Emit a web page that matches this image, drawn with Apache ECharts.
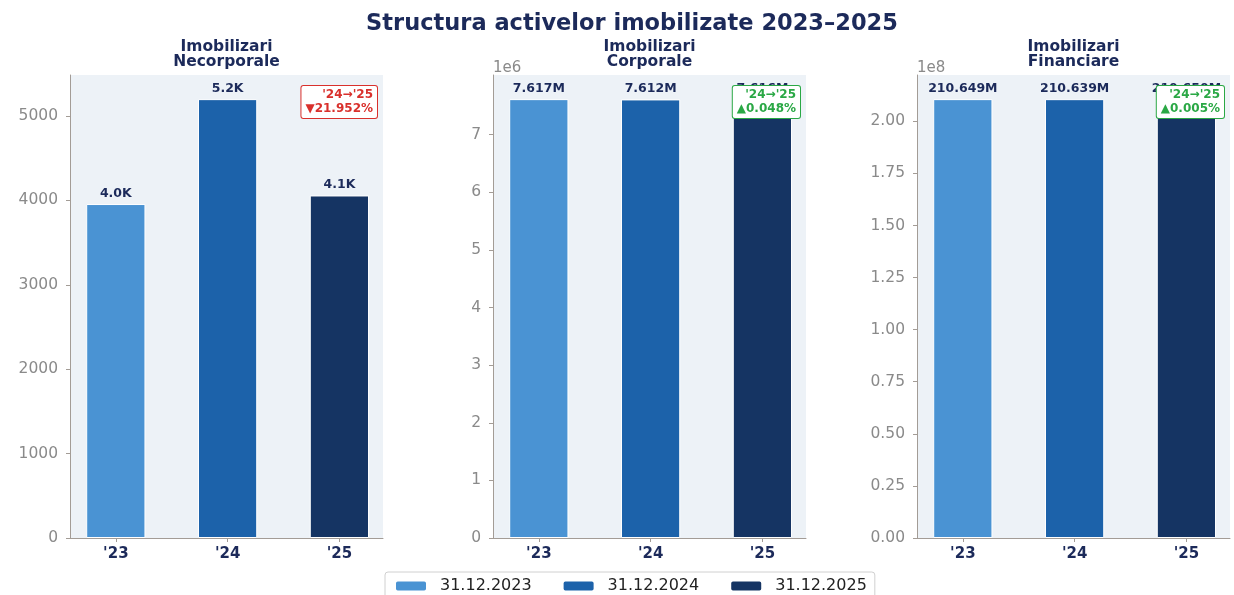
<!DOCTYPE html>
<html>
<head>
<meta charset="utf-8">
<script src="https://cdn.jsdelivr.net/npm/echarts@6/dist/echarts.min.js"></script>
<style>
  html, body { margin: 0; padding: 0; background: #fff; }
  #chart { width: 1234px; height: 595px; }
</style>
</head>
<body>
<div id="chart"></div>
<script>
// Year labels on the x axes and the balance-sheet dates shown in the legend
const categories = ["'23", "'24", "'25"];
const seriesNames = ['31.12.2023', '31.12.2024', '31.12.2025'];
const panelTitles = ['Imobilizari\nNecorporale', 'Imobilizari\nCorporale', 'Imobilizari\nFinanciare'];

// Values per asset group (lei)
const necorporale = [3957, 5200, 4058.5];
const corporale = [7617200, 7612300, 7615954];
const financiare = [210649000, 210639000, 210650000];

// Y-axis tick values and the scale text drawn above each axis
const ticksNecorporale = [0, 1000, 2000, 3000, 4000, 5000];
const ticksCorporale = [0, 1e6, 2e6, 3e6, 4e6, 5e6, 6e6, 7e6];
const ticksFinanciare = [0, 0.25e8, 0.5e8, 0.75e8, 1e8, 1.25e8, 1.5e8, 1.75e8, 2e8];
const axisScaleText = ['', '1e6', '1e8'];

const panels = [
  { values: necorporale, ticks: ticksNecorporale, fmt: v => String(v) },
  { values: corporale, ticks: ticksCorporale, fmt: v => String(Math.round(v / 1e6)) },
  { values: financiare, ticks: ticksFinanciare, fmt: v => (v / 1e8).toFixed(2) }
];

const colors = ['#4a93d3', '#1c62aa', '#153463'];
const NAVY = '#1c2a5a';
const FONT = 'DejaVu Sans';
const GRAY = '#8a8a8a';
const AXIS = '#a39c96';

// Plot area geometry
const gridLefts = [70, 493, 917];
const gridWidth = 313;
const gridTop = 75;
const gridBottom = 57;
const xMin = -0.41, xMax = 2.39;
const barWidth = 0.53 * gridWidth / (xMax - xMin);

function shortValue(v) {
  if (v >= 1e6) return (v / 1e6).toFixed(3) + 'M';
  return (v / 1e3).toFixed(1) + 'K';
}

const grid = [], xAxis = [], yAxis = [], series = [], graphic = [];
const title = [{
  text: 'Structura activelor imobilizate 2023\u20132025',
  left: 632, textAlign: 'center', top: 13, padding: 0,
  textStyle: { fontFamily: FONT, fontWeight: 'bold', fontSize: 22.5, color: NAVY }
}];

panels.forEach((p, i) => {
  const left = gridLefts[i];
  grid.push({
    left: left, width: gridWidth, top: gridTop, bottom: gridBottom,
    show: true, backgroundColor: '#edf2f7', borderWidth: 0
  });
  xAxis.push({
    type: 'value', gridIndex: i, min: xMin, max: xMax,
    axisLine: { show: true, onZero: false, lineStyle: { color: AXIS, width: 1 } },
    axisTick: { show: true, length: 4, customValues: [0, 1, 2], lineStyle: { color: AXIS } },
    axisLabel: {
      customValues: [0, 1, 2],
      formatter: v => categories[Math.round(v)],
      fontFamily: FONT, fontWeight: 'bold', fontSize: 15, color: NAVY, margin: 9
    },
    splitLine: { show: false }
  });
  yAxis.push({
    type: 'value', gridIndex: i, min: 0,
    max: Math.max(...p.values) * 1.055,
    name: axisScaleText[i], nameLocation: 'end', nameGap: -1,
    nameTextStyle: { fontFamily: FONT, fontSize: 15, color: GRAY, align: 'left', verticalAlign: 'bottom' },
    axisLine: { show: true, onZero: false, lineStyle: { color: AXIS, width: 1 } },
    axisTick: { show: true, length: 4, customValues: p.ticks, lineStyle: { color: AXIS } },
    axisLabel: {
      customValues: p.ticks, formatter: p.fmt,
      fontFamily: FONT, fontSize: 15.5, color: GRAY, margin: 12
    },
    splitLine: { show: false }
  });
  title.push({
    text: panelTitles[i],
    left: left + gridWidth / 2, textAlign: 'center', top: 39, padding: 0,
    textStyle: { fontFamily: FONT, fontWeight: 'bold', fontSize: 15.5, color: NAVY, lineHeight: 15 }
  });
  p.values.forEach((v, k) => {
    series.push({
      type: 'bar', name: seriesNames[k],
      xAxisIndex: i, yAxisIndex: i,
      barWidth: barWidth, barGap: '-100%',
      data: [[k, v]],
      itemStyle: { color: colors[k], borderColor: '#ffffff', borderWidth: 1 },
      label: {
        show: true, position: 'top', distance: 4,
        formatter: d => shortValue(d.value[1]),
        fontFamily: FONT, fontWeight: 'bold', fontSize: 12.5, color: NAVY
      }
    });
  });

  // Change between the last two years, boxed in the top-right corner
  const v24 = p.values[1], v25 = p.values[2];
  const pct = (v25 - v24) / v24 * 100;
  const up = pct >= 0;
  const c = up ? '#2aa845' : '#d9302c';
  graphic.push({
    type: 'text', z: 100,
    x: left + gridWidth - 6, y: gridTop + 11,
    style: {
      text: "'24\u2192'25\n" + (up ? '\u25b2' : '\u25bc') + Math.abs(pct).toFixed(3) + '%',
      fill: c, font: 'bold 12px "DejaVu Sans"', align: 'right', verticalAlign: 'top',
      lineHeight: 14,
      backgroundColor: '#ffffff', borderColor: c, borderWidth: 1, borderRadius: 2,
      padding: [2, 4, 2, 4]
    }
  });
});

const chart = echarts.init(document.getElementById('chart'), null, { renderer: 'canvas' });
chart.setOption({
  animation: false,
  backgroundColor: '#ffffff',
  color: colors,
  title: title,
  legend: {
    data: seriesNames,
    bottom: -7, left: 385,
    itemWidth: 32, itemHeight: 11, itemGap: 30,
    padding: [6, 8, 8, 9],
    borderColor: '#d0d0d0', borderWidth: 1, borderRadius: 3,
    textStyle: { fontFamily: FONT, fontSize: 16, color: '#222', padding: [0, 0, 0, 8] }
  },
  grid: grid,
  xAxis: xAxis,
  yAxis: yAxis,
  series: series,
  graphic: graphic
});
</script>
</body>
</html>
